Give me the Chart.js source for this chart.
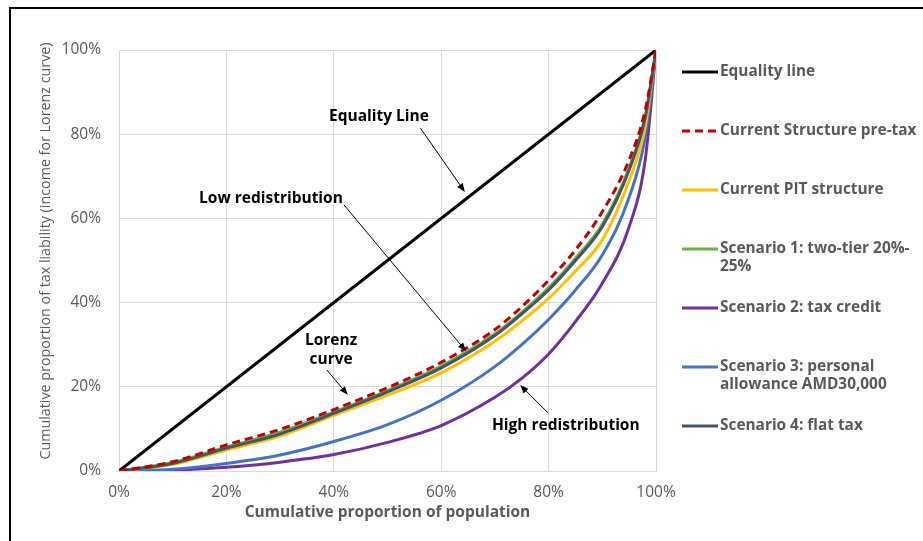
<!DOCTYPE html>
<html>
<head>
<meta charset="utf-8">
<script src="https://cdn.jsdelivr.net/npm/chart.js@4/dist/chart.umd.min.js"></script>
<style>
  body { margin: 0; background: #fff; }
  #wrap { width: 923px; height: 541px; }
</style>
</head>
<body>
<div id="wrap"><canvas id="lorenz"></canvas></div>
<script>
// cumulative proportion of population (%)
const population = [0, 10, 20, 30, 40, 50, 60, 70, 75, 80, 85, 90, 95, 98, 100];

const equalityX = [0, 100];
const equalityY = [0, 100];

const preTax     = [0, 2.2, 6.2, 9.9, 14.6, 19.8, 25.8, 33.6, 39.0, 45.3, 52.5, 61.6, 73.9, 85.7, 100];
const currentPIT = [0, 1.6, 5.0, 8.3, 13.2, 18.0, 23.3, 30.8, 35.6, 41.0, 47.5, 54.9, 69.0, 81.8, 100];
const scenario1  = [0, 2.0, 5.7, 9.2, 14.0, 19.1, 24.9, 32.6, 37.7, 43.5, 50.5, 58.6, 72.0, 84.3, 100];
const scenario2  = [0, 0.2, 0.9, 2.1, 3.9, 6.8, 10.8, 17.5, 22.0, 27.8, 35.5, 44.6, 58.0, 74.0, 100];
const scenario3  = [0, 0.4, 1.8, 3.8, 7.0, 11.0, 16.8, 24.8, 30.0, 36.0, 43.0, 51.3, 65.0, 79.4, 100];
const scenario4  = [0, 1.8, 5.4, 8.8, 13.7, 18.8, 24.5, 32.2, 37.3, 43.0, 50.0, 58.0, 71.5, 84.0, 100];

const tickValues = [0, 20, 40, 60, 80, 100];

const legendLabels = [
  ['Equality line'],
  ['Current Structure pre-tax'],
  ['Current PIT structure'],
  ['Scenario 1: two-tier 20%-', '25%'],
  ['Scenario 2: tax credit'],
  ['Scenario 3: personal', 'allowance AMD30,000'],
  ['Scenario 4: flat tax']
];

// annotation text and arrows, in data units (x %, y %)
const notes = [
  { lines: ['Equality Line'], x: 48.4, y: 84.3, from: [56.1, 81.5], to: [64.4, 66.3] },
  { lines: ['Low redistribution'], x: 28.3, y: 64.8, from: [41.9, 63.2], to: [64.6, 28.5] },
  { lines: ['Lorenz', 'curve'], x: 39.5, y: 28.7, from: [38.7, 24.0], to: [42.6, 18.1] },
  { lines: ['High redistribution'], x: 83.2, y: 10.7, from: [79.9, 13.8], to: [74.7, 20.4] }
];

function toPoints(xs, ys) {
  return xs.map((x, i) => ({ x: x, y: ys[i] }));
}

const FONT = '"Open Sans", "DejaVu Sans", sans-serif';
const GREY_TEXT = '#595959';

const series = [
  { label: legendLabels[0], data: toPoints(equalityX, equalityY), color: '#000000', dash: [], order: 1 },
  { label: legendLabels[1], data: toPoints(population, preTax), color: '#C00000', dash: [8, 5], order: 0 },
  { label: legendLabels[2], data: toPoints(population, currentPIT), color: '#FFC000', dash: [], order: 5 },
  { label: legendLabels[3], data: toPoints(population, scenario1), color: '#70AD47', dash: [], order: 3 },
  { label: legendLabels[4], data: toPoints(population, scenario2), color: '#7030A0', dash: [], order: 7 },
  { label: legendLabels[5], data: toPoints(population, scenario3), color: '#4472C4', dash: [], order: 6 },
  { label: legendLabels[6], data: toPoints(population, scenario4), color: '#44546A', dash: [], order: 2 }
];

function drawArrow(ctx, x1, y1, x2, y2) {
  const ang = Math.atan2(y2 - y1, x2 - x1);
  const head = 9;
  ctx.beginPath();
  ctx.moveTo(x1, y1);
  ctx.lineTo(x2 - Math.cos(ang) * head * 0.8, y2 - Math.sin(ang) * head * 0.8);
  ctx.stroke();
  ctx.beginPath();
  ctx.moveTo(x2, y2);
  ctx.lineTo(x2 - head * Math.cos(ang - 0.38), y2 - head * Math.sin(ang - 0.38));
  ctx.lineTo(x2 - head * Math.cos(ang + 0.38), y2 - head * Math.sin(ang + 0.38));
  ctx.closePath();
  ctx.fill();
}

const extras = {
  id: 'extras',
  beforeDraw(chart) {
    const ctx = chart.ctx;
    ctx.save();
    ctx.fillStyle = '#ffffff';
    ctx.fillRect(0, 0, chart.width, chart.height);
    ctx.strokeStyle = '#000000';
    ctx.lineWidth = 2;
    ctx.strokeRect(10, 8, chart.width + 20, chart.height + 20);
    ctx.restore();
  },
  afterDraw(chart) {
    const ctx = chart.ctx;
    const xs = chart.scales.x;
    const ys = chart.scales.y;
    const area = chart.chartArea;
    ctx.save();

    // axis titles
    ctx.fillStyle = GREY_TEXT;
    ctx.textAlign = 'center';
    ctx.textBaseline = 'middle';
    ctx.font = 'bold 15.5px ' + FONT;
    ctx.fillText('Cumulative proportion of population', (area.left + area.right) / 2, 513);
    ctx.save();
    ctx.translate(46, 251);
    ctx.rotate(-Math.PI / 2);
    ctx.font = '14.3px ' + FONT;
    ctx.fillText('Cumulative proportion of tax liability (income for Lorenz curve)', 0, 0);
    ctx.restore();

    // annotations
    ctx.fillStyle = '#000000';
    ctx.strokeStyle = '#000000';
    ctx.lineWidth = 1;
    ctx.font = 'bold 15.5px ' + FONT;
    notes.forEach(n => {
      const cx = xs.getPixelForValue(n.x);
      const cy = ys.getPixelForValue(n.y);
      const h = 19;
      n.lines.forEach((t, i) => {
        ctx.fillText(t, cx, cy + (i - (n.lines.length - 1) / 2) * h);
      });
      drawArrow(ctx,
        xs.getPixelForValue(n.from[0]), ys.getPixelForValue(n.from[1]),
        xs.getPixelForValue(n.to[0]), ys.getPixelForValue(n.to[1]));
    });

    // legend on the right
    const legendY = [72, 131, 190, 249, 308, 367, 426];
    ctx.textAlign = 'left';
    ctx.font = 'bold 15.4px ' + FONT;
    series.forEach((s, i) => {
      const y = legendY[i];
      ctx.strokeStyle = s.color;
      ctx.lineWidth = 3;
      ctx.setLineDash(s.dash);
      ctx.beginPath();
      ctx.moveTo(682, y);
      ctx.lineTo(718, y);
      ctx.stroke();
      ctx.setLineDash([]);
      ctx.fillStyle = GREY_TEXT;
      s.label.forEach((t, j) => ctx.fillText(t, 720, y + j * 18));
    });
    ctx.restore();
  }
};

new Chart(document.getElementById('lorenz'), {
  type: 'line',
  data: {
    datasets: series.map(s => ({
      label: s.label.join(' '),
      data: s.data,
      borderColor: s.color,
      backgroundColor: s.color,
      borderDash: s.dash,
      borderWidth: 3,
      pointRadius: 0,
      cubicInterpolationMode: 'monotone',
      order: s.order
    }))
  },
  options: {
    responsive: true,
    maintainAspectRatio: false,
    animation: false,
    layout: { padding: { left: 0, top: 50, right: 267, bottom: 0 } },
    plugins: {
      legend: { display: false },
      tooltip: { enabled: false }
    },
    scales: {
      x: {
        type: 'linear',
        min: 0,
        max: 100,
        afterFit: s => { s.height = 70; },
        afterBuildTicks: s => { s.ticks = tickValues.map(v => ({ value: v })); },
        grid: { color: '#d9d9d9', drawTicks: false },
        border: { color: '#d9d9d9' },
        ticks: {
          padding: 12,
          color: GREY_TEXT,
          font: { family: FONT, size: 15.5 },
          callback: v => v + '%'
        }
      },
      y: {
        min: 0,
        max: 100,
        afterFit: s => { s.width = 119; },
        afterBuildTicks: s => { s.ticks = tickValues.map(v => ({ value: v })); },
        grid: { color: '#d9d9d9', drawTicks: false },
        border: { color: '#d9d9d9' },
        ticks: {
          padding: 18,
          color: GREY_TEXT,
          font: { family: FONT, size: 15.5 },
          callback: v => v + '%'
        }
      }
    }
  },
  plugins: [extras]
});
</script>
</body>
</html>
